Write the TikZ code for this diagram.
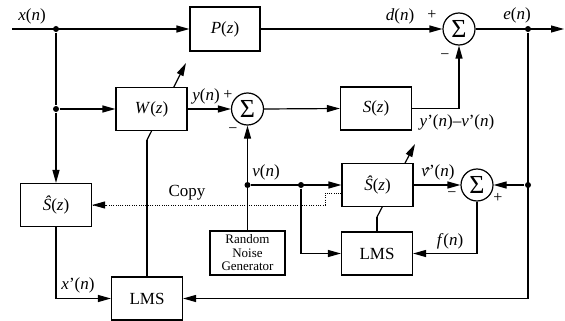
\documentclass[tikz,border=0pt]{standalone}
\usepackage{fontspec}
\setmainfont{Liberation Serif}
\usetikzlibrary{arrows.meta,calc}
\newcommand{\vhatsym}{\textit{\makebox[0pt][l]{\kern2.2pt\raisebox{-3pt}{ˆ}}v}}
\newcommand{\sumsym}{\scalebox{1.3}{\fontsize{20}{22}\selectfont Σ}}
\begin{document}
\begin{tikzpicture}[x=1pt,y=-1pt, line width=1.2pt,
  >={Triangle[length=13pt,width=7pt]},
  blk/.style={draw, fill=white, minimum width=71pt, minimum height=43pt, inner sep=0pt, font=\fontsize{17}{20}\selectfont},
  sumn/.style={draw, circle, fill=white, minimum size=32pt, inner sep=0pt},
  lbl/.style={font=\fontsize{17}{20}\selectfont, inner sep=0pt},
  sgn/.style={font=\fontsize{16}{18}\selectfont, inner sep=0pt},
  dot/.style={circle, fill, inner sep=0pt, minimum size=6pt},
  copyline/.style={line width=1pt, dash pattern=on 1pt off 1.3pt},
]
\useasboundingbox (0,0) rectangle (565,321);

% named points for the adaptive-filter arrows (drawn first, so the blocks cover them)
\coordinate (wa) at (147,140);
\coordinate (wb) at (186,63);
\coordinate (sa) at (377,217);
\coordinate (sb) at (415,144);
\draw[->] (wa) -- (wb);
\draw[->] (sa) -- (sb);

% blocks
\node[blk, minimum width=70pt, minimum height=44pt] (P) at (225,29) {\textit{P}(\textit{z})};
\node[blk] (W) at (151.5,109) {\textit{W}(\textit{z})};
\node[blk] (S) at (376,108.5) {\textit{S}(\textit{z})};
\node[blk] (SH1) at (56,205) {\textit{\^S}(\textit{z})};
\node[blk] (SH2) at (377.5,185) {\textit{\^S}(\textit{z})};
\node[blk] (L1) at (147,298.5) {LMS};
\node[blk] (L2) at (377,253.5) {LMS};
\node[blk, minimum width=75pt, minimum height=44pt, align=center, font=\fontsize{13}{13.5}\selectfont] (RNG) at (247.5,253) {Random\\Noise\\Generator};

% summing junctions
\node[sumn] (s1) at (247.5,109) {\sumsym};
\node[sumn] (s2) at (459,29) {\sumsym};
\node[sumn] (s3) at (477,185) {\sumsym};

% branch points
\node[dot] (j1) at (56,29) {};
\node[dot] (j2) at (56,109) {};
\node[dot] (jv) at (247.5,185) {};
\node[dot] (jv2) at (301,185) {};
\node[dot] (je) at (528,29) {};
\node[dot] (je2) at (528,185) {};
\coordinate (xin) at (12,29);
\coordinate (eout) at (564,29);
\coordinate (cp) at (325,193);

% connectors
\draw (L1.north) -- (wa);
\draw (L2.north) -- (sa);
\draw[->] (xin) -- (P.west);
\draw (j1) -- (j2);
\draw[->] (j2) -- (SH1.north);
\draw[->] (j2) -- (W.west);
\draw[->] (W.east) -- (s1.west);
\draw[->] (s1.east) -- (S.west);
\draw[->] (S.east) -| (s2.south);
\draw[->] (P.east) -- (s2.west);
\draw[->] (s2.east) -- (eout);
\draw[->] (je) |- (L1.east);
\draw[->] (je2) -- (s3.east);
\draw[->] (RNG.north) -- (s1.south);
\draw[->] (jv) -- (SH2.west);
\draw[->] (jv2) |- (L2.west);
\draw[->] (SH2.east) -- (s3.west);
\draw[->] (s3.south) |- (L2.east);
\draw[->] (SH1.south) |- (L1.west);
\draw[copyline] (SH2.west |- cp) -- (cp) |- (SH1.east);
\draw[->, line width=1pt] ($(SH1.east)+(14,0)$) -- (SH1.east);

% labels
\node[lbl] (lx) at (32,16) {\textit{x}(\textit{n})};
\node[lbl] (ld) at (400,16) {\textit{d}(\textit{n})};
\node[sgn] (ldp) at (432,15) {+};
\node[lbl] (le) at (517,15) {\textit{e}(\textit{n})};
\node[lbl] (ly) at (206,96) {\textit{y}(\textit{n})};
\node[sgn] (lyp) at (228,95) {+};
\node[sgn] (m1) at (233,131) {−};
\node[sgn] (m2) at (445,57) {−};
\node[lbl] (lyv) at (457,122) {\textit{y}'(\textit{n})–\textit{v}'(\textit{n})};
\node[lbl] (lcopy) at (187,193) {Copy};
\node[lbl] (lv) at (266,172) {\textit{v}(\textit{n})};
\node[lbl] (lvh) at (438,172) {\vhatsym'(\textit{n})};
\node[sgn] (m3) at (452,195) {−};
\node[sgn] (p3) at (498,198) {+};
\node[lbl] (lf) at (450,241) {\textit{f}(\textit{n})};
\node[lbl] (lxp) at (78,285) {\textit{x}'(\textit{n})};
\end{tikzpicture}
\end{document}
